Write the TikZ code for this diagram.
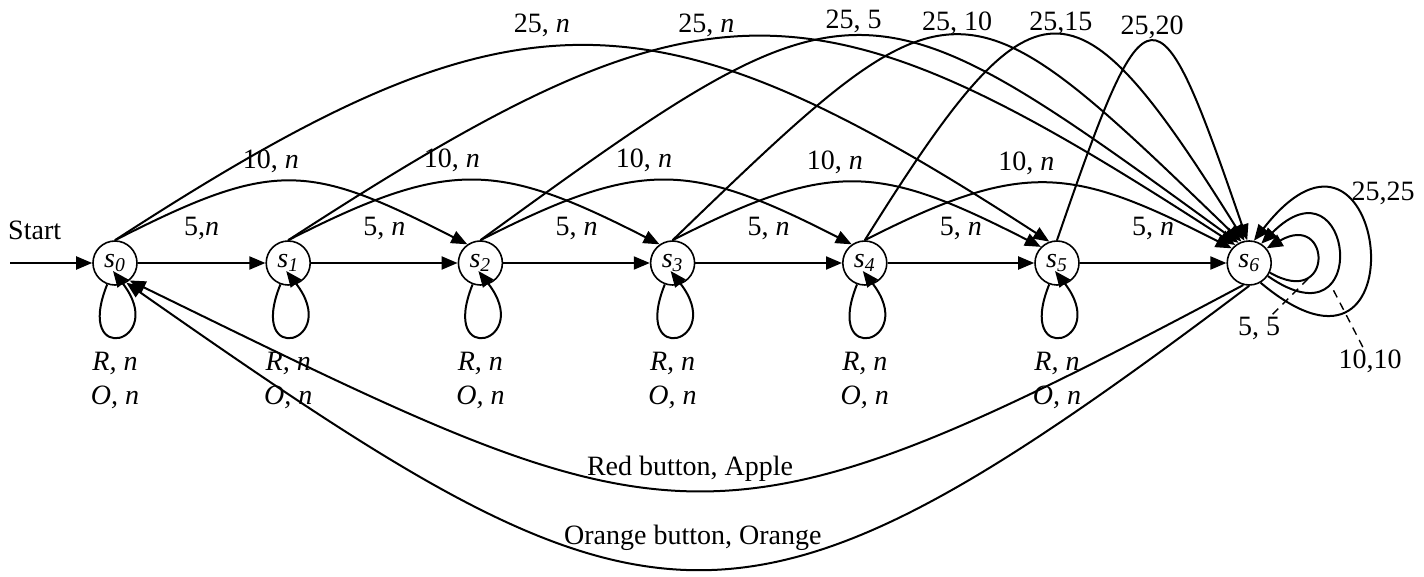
\documentclass[tikz,border=0pt]{standalone}
\usepackage{fontspec}
\setmainfont{Liberation Serif}
\usetikzlibrary{positioning,arrows.meta}

\begin{document}
\begin{tikzpicture}[
    x=0.5pt, y=0.5pt,
    >={Triangle[length=8pt,width=6.5pt]},
    node distance=73.3pt,
    every node/.style={font=\fontsize{14}{17}\selectfont},
    state/.style={circle, draw, line width=0.8pt, minimum size=22pt, inner sep=0pt},
    edge/.style={->, line width=1pt},
    selfloop/.style={out=-112, in=-52, looseness=15.9},
    lbl/.style={inner sep=1pt},
    pointer/.style={line width=0.7pt, dash pattern=on 4pt off 3pt},
]
\useasboundingbox (0,0) rectangle (1424,-577);

% States
\node[state] (s0) at (115,-263) {\itshape s\textsubscript{0}};
\node[state, right=63.8pt of s0] (s1) {\itshape s\textsubscript{1}};
\node[state, right=of s1] (s2) {\itshape s\textsubscript{2}};
\node[state, right=of s2] (s3) {\itshape s\textsubscript{3}};
\node[state, right=of s3] (s4) {\itshape s\textsubscript{4}};
\node[state, right=of s4] (s5) {\itshape s\textsubscript{5}};
\node[state, right=of s5] (s6) {\itshape s\textsubscript{6}};
\coordinate (start) at (10,-263);

% Button labels under the states
\node[lbl, align=center, below=32pt of s0] (b0) {\textit{R, n}\\\textit{O, n}};
\node[lbl, align=center, below=32pt of s1] (b1) {\textit{R, n}\\\textit{O, n}};
\node[lbl, align=center, below=32pt of s2] (b2) {\textit{R, n}\\\textit{O, n}};
\node[lbl, align=center, below=32pt of s3] (b3) {\textit{R, n}\\\textit{O, n}};
\node[lbl, align=center, below=32pt of s4] (b4) {\textit{R, n}\\\textit{O, n}};
\node[lbl, align=center, below=32pt of s5] (b5) {\textit{R, n}\\\textit{O, n}};

% Start
\draw[edge] (start) -- node[lbl, above=10pt, pos=0.3] {Start} (s0);

% 5 cents
\draw[edge] (s0) -- node[lbl, above=10pt] {5,\textit{n}} (s1);
\draw[edge] (s1) -- node[lbl, above=10pt] {5, \textit{n}} (s2);
\draw[edge] (s2) -- node[lbl, above=10pt] {5, \textit{n}} (s3);
\draw[edge] (s3) -- node[lbl, above=10pt] {5, \textit{n}} (s4);
\draw[edge] (s4) -- node[lbl, above=10pt] {5, \textit{n}} (s5);
\draw[edge] (s5) -- node[lbl, above=10pt] {5, \textit{n}} (s6);

% 10 cents
\draw[edge] (s0.north) to[out=27, in=153, looseness=1.3] node[lbl, above=3pt, pos=0.43] {10, \textit{n}} (s2.125);
\draw[edge] (s1.north) to[out=27, in=153, looseness=1.25] node[lbl, above=3pt, pos=0.43] {10, \textit{n}} (s3.125);
\draw[edge] (s2.north) to[out=27, in=153, looseness=1.25] node[lbl, above=3pt, pos=0.43] {10, \textit{n}} (s4.125);
\draw[edge] (s3.north) to[out=27, in=153, looseness=1.25] node[lbl, above=3pt, pos=0.43] {10, \textit{n}} (s5.135);
\draw[edge] (s4.north) to[out=27, in=153, looseness=1.25] node[lbl, above=3pt, pos=0.43] {10, \textit{n}} (s6.140);

% 25 cents
\draw[edge] (s0.north) to[out=33, in=147, looseness=1.31] node[lbl, above=4pt, pos=0.45] {25, \textit{n}} (s5.110);
\draw[edge] (s1.north) to[out=33, in=147, looseness=1.36] node[lbl, above, pos=0.43] {25, \textit{n}} (s6.128);
\draw[edge] (s2.north) to[out=36, in=144, looseness=1.57] node[lbl, above, pos=0.49] {25, 5} (s6.118);
\draw[edge] (s3.north) to[out=44, in=136, looseness=1.77] node[lbl, above=-1pt] {25, 10} (s6.110);
\draw[edge] (s4.north) to[out=58, in=122, looseness=2.18] node[lbl, above=-1pt, pos=0.52] {25,15} (s6.102);
\draw[edge] (s5.north) to[out=71, in=109, looseness=3.77] node[lbl, above] {25,20} (s6.95);

% Red / orange buttons
\draw[edge] (s0.250) to[selfloop] ([shift={(-2,-8)}]s0.center);
\draw[edge] (s1.250) to[selfloop] ([shift={(-2,-8)}]s1.center);
\draw[edge] (s2.250) to[selfloop] ([shift={(-2,-8)}]s2.center);
\draw[edge] (s3.250) to[selfloop] ([shift={(-2,-8)}]s3.center);
\draw[edge] (s4.250) to[selfloop] ([shift={(-2,-8)}]s4.center);
\draw[edge] (s5.250) to[selfloop] ([shift={(-2,-8)}]s5.center);

% Loops on s6
\draw[edge] (s6.-25) to[out=-30, in=30, looseness=7.8] coordinate[pos=0.3] (c55) (s6.40);
\draw[edge] (s6.-35) to[out=-35, in=45, looseness=10] coordinate[pos=0.3] (c1010) (s6.58);
\draw[edge] (s6.-60) to[out=-40, in=52, looseness=13] (s6.78);
\node[lbl] (l2525) at (1383,-193) {25,25};
\node[lbl] (l55) at (1259,-328) {5, 5};
\node[lbl] (l1010) at (1370,-361) {10,10};
\draw[pointer] (l55) -- (c55);
\draw[pointer] (l1010) -- (c1010);

% Back to s0
\draw[edge] (s6.255) to[out=208, in=-26, looseness=1.4] node[lbl, above=3pt] {Red button, Apple} (s0.-50);
\draw[edge] (s6.270) to[out=217, in=-35, looseness=1.47] node[lbl, above=8pt] {Orange button, Orange} (s0.-60);

\end{tikzpicture}
\end{document}
